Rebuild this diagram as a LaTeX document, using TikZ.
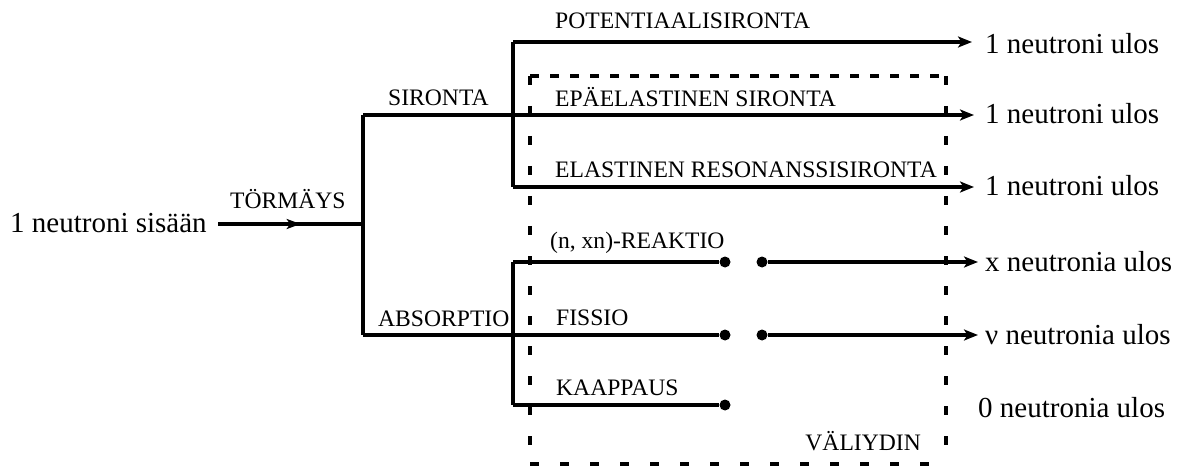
\documentclass[tikz,border=0pt]{standalone}
\usepackage{fontspec}
\setmainfont{Liberation Serif}
\usetikzlibrary{arrows.meta,decorations.markings}
\begin{document}
\begin{tikzpicture}[x=1pt,y=-1pt,
  wire/.style={line width=4.3pt},
  arr/.style={wire,-{Stealth[length=14pt,width=11pt,inset=3.5pt]}},
  lbl/.style={anchor=base west,inner sep=0pt,font=\fontsize{23.6}{28}\selectfont},
  outtxt/.style={anchor=base west,inner sep=0pt,font=\fontsize{29}{32}\selectfont},
  dot/.style={circle,fill=black,inner sep=0pt,minimum size=11pt},
  boxtop/.style={line width=4.3pt,dash pattern=on 9pt off 11pt},
  boxside/.style={line width=4.3pt,dash pattern=on 9pt off 21pt}]
\useasboundingbox (0,0) rectangle (1187,468);
% junction coordinates
\coordinate (in0) at (218,224);
\coordinate (j1) at (363,224);
\coordinate (j1t) at (363,115);
\coordinate (j1b) at (363,335);
\coordinate (s0) at (513,115);
\coordinate (st) at (513,42);
\coordinate (sb) at (513,187);
\coordinate (a0) at (513,335);
\coordinate (at) at (513,262);
\coordinate (ab) at (513,405);
\coordinate (o1) at (972,42);
\coordinate (o2) at (974,115);
\coordinate (o3) at (974,187);
\coordinate (o4) at (978,262);
\coordinate (o5) at (978,335);
\coordinate (bx1) at (530,76);
\coordinate (bx2) at (946,76);
\coordinate (bx3) at (946,464);
\coordinate (bx4) at (530,464);
\node[dot] (d1) at (725,262) {};
\node[dot] (d2) at (762,262) {};
\node[dot] (d3) at (725,335) {};
\node[dot] (d4) at (762,335) {};
\node[dot] (d5) at (725,405) {};
% dashed box
\draw[boxtop] (bx1) -- (bx2);
\draw[boxside] (bx2) -- (bx3);
\draw[boxside] (bx4) -- (bx3);
\draw[boxside] (bx1) -- (bx4);
% input
\draw[wire,postaction={decorate},decoration={markings,mark=at position 0.57 with {\arrow{Stealth[length=14pt,width=10pt,inset=3.5pt]}}}] (in0) -- (j1);
\draw[wire] (j1t) -- (j1b);
\draw[wire] (j1t) -- (s0);
\draw[wire] (j1b) -- (a0);
\draw[wire] (st) -- (sb);
\draw[arr] (st) -- (o1);
\draw[arr] (s0) -- (o2);
\draw[arr] (sb) -- (o3);
\draw[wire] (at) -- (ab);
\draw[wire] (at) -- (d1);
\draw[wire] (a0) -- (d3);
\draw[wire] (ab) -- (d5);
\draw[arr] (d2) -- (o4);
\draw[arr] (d4) -- (o5);
% labels
\node[outtxt] (tin) at (10,233) {1 neutroni sisään};
\node[lbl] (tt) at (230,208) {TÖRMÄYS};
\node[lbl] (ts) at (388,106) {SIRONTA};
\node[lbl] (ta) at (378,326) {ABSORPTIO};
\node[lbl] (tp) at (555,29) {POTENTIAALISIRONTA};
\node[lbl] (te) at (555,107) {EPÄELASTINEN SIRONTA};
\node[lbl] (tr) at (555,178) {ELASTINEN RESONANSSISIRONTA};
\node[lbl] (tx) at (550,248) {(n, xn)-REAKTIO};
\node[lbl] (tf) at (556,325) {FISSIO};
\node[lbl] (tk) at (556,395) {KAAPPAUS};
\node[lbl,anchor=base east] (tv) at (921,450) {VÄLIYDIN};
\node[outtxt] (u1) at (985,54) {1 neutroni ulos};
\node[outtxt] (u2) at (985,124) {1 neutroni ulos};
\node[outtxt] (u3) at (985,196) {1 neutroni ulos};
\node[outtxt] (u4) at (985,271) {x neutronia ulos};
\node[outtxt] (u5) at (985,344) {ν neutronia ulos};
\node[outtxt] (u6) at (978,417) {0 neutronia ulos};
\end{tikzpicture}
\end{document}
